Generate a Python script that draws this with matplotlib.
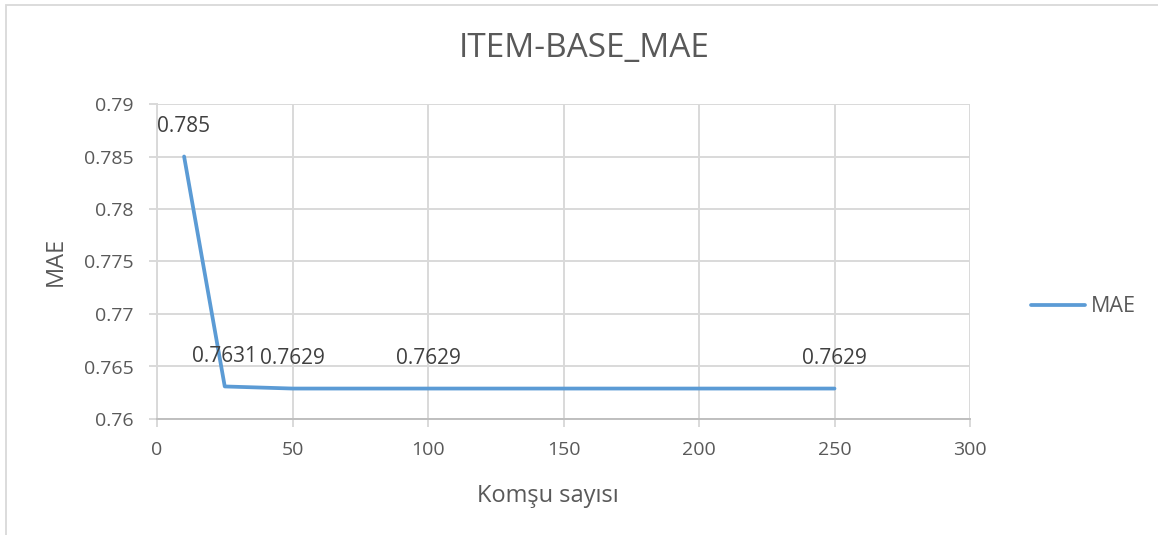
import matplotlib.pyplot as plt
from matplotlib.patches import Rectangle

plt.rcParams['font.family'] = ['Open Sans', 'DejaVu Sans']

# data
komsu = [10, 25, 50, 100, 150, 200, 250]
mae = [0.785, 0.7631, 0.7629, 0.7629, 0.7629, 0.7629, 0.7629]
label_idx = [0, 1, 2, 3, 6]
labels = ['0.785', '0.7631', '0.7629', '0.7629', '0.7629']
x_ticks = [0, 50, 100, 150, 200, 250, 300]
y_ticks = [0.76, 0.765, 0.77, 0.775, 0.78, 0.785, 0.79]
y_ticklabels = ['0.76', '0.765', '0.77', '0.775', '0.78', '0.785', '0.79']

text_col = '#595959'
line_col = '#5B9BD5'
grid_col = '#D9D9D9'

W, H = 1158, 535
fig = plt.figure(figsize=(W / 100, H / 100), dpi=100)
ax = fig.add_axes([157 / W, 1 - 419 / H, (970 - 157) / W, (419 - 104) / H])

ax.plot(komsu, mae, color=line_col, lw=2.7, solid_capstyle='round',
        solid_joinstyle='round', label='MAE', zorder=3)

for k, i in enumerate(label_idx):
    dx = -27 if k == 0 else 0
    ax.annotate(labels[k], xy=(komsu[i], mae[i]), xytext=(dx, 24.5),
                textcoords='offset pixels', ha='left' if k == 0 else 'center',
                va='baseline', fontsize=15, color='#404040')

ax.set_xlim(0, 300)
ax.set_ylim(0.76, 0.79)
ax.set_xticks(x_ticks)
ax.set_yticks(y_ticks)
ax.set_yticklabels(y_ticklabels)
ax.grid(True, color=grid_col, lw=1.4)
ax.set_axisbelow(True)

for s in ['top', 'right']:
    ax.spines[s].set_visible(False)
ax.spines['left'].set_color(grid_col)
ax.spines['left'].set_linewidth(1.4)
ax.spines['bottom'].set_color('#BFBFBF')
ax.spines['bottom'].set_linewidth(1.4)
ax.tick_params(axis='y', length=6, color=grid_col, width=1.4, pad=11,
               labelsize=14, labelcolor=text_col)
ax.tick_params(axis='x', length=6, color=grid_col, width=1.4, pad=10,
               labelsize=14, labelcolor=text_col)

fig.text(584 / W, 1 - 49 / H, 'ITEM-BASE_MAE', ha='center', va='center',
         fontsize=24, color=text_col)
fig.text(548 / W, 1 - 496 / H, 'Komşu sayısı', ha='center', va='center',
         fontsize=17, color=text_col)
fig.text(56 / W, 1 - 261 / H, 'MAE', ha='center', va='center', rotation=90,
         fontsize=17, color=text_col)

fig.legend(loc='center left', bbox_to_anchor=(1031 / W, 1 - 307 / H),
           frameon=False, fontsize=15.5, labelcolor=text_col,
           handlelength=2.5, handletextpad=0.3, borderpad=0, borderaxespad=0)

fig.add_artist(Rectangle((6 / W, -0.1), 1.2, 1 - 5 / H + 0.1,
                         transform=fig.transFigure, fill=False,
                         edgecolor=grid_col, lw=1.3))

fig.savefig('out.png', dpi=100)
